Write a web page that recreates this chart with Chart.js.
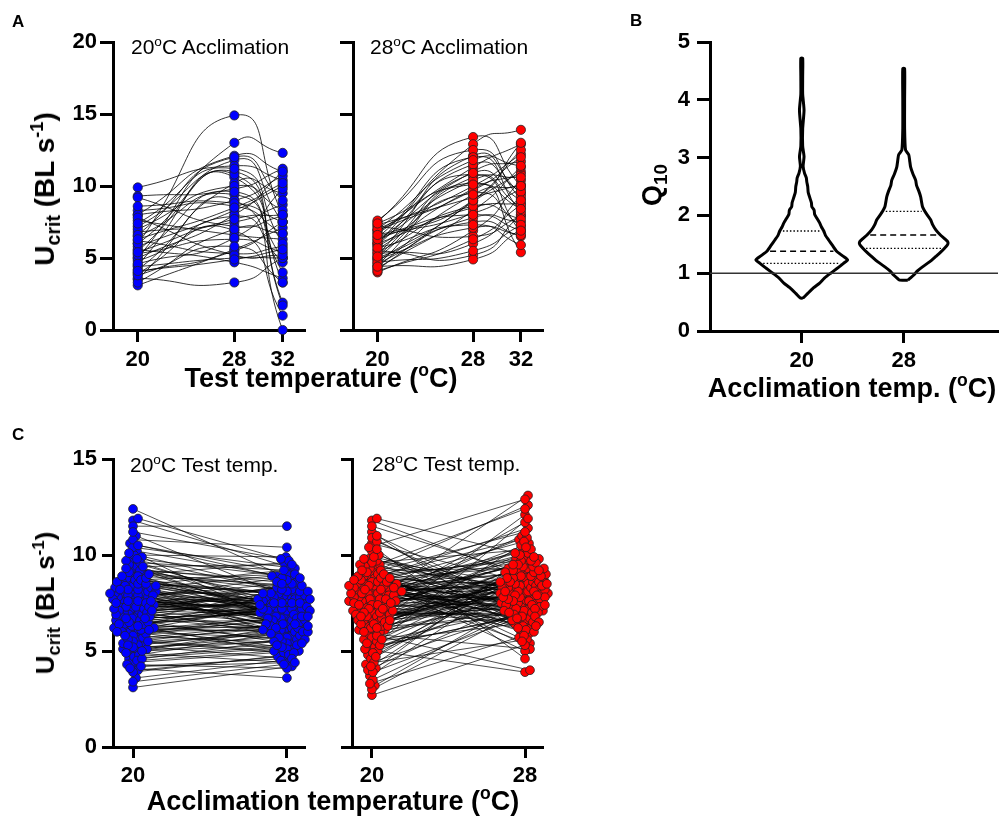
<!DOCTYPE html>
<html>
<head>
<meta charset="utf-8">
<script src="https://cdn.jsdelivr.net/npm/chart.js@4.4.0/dist/chart.umd.min.js"></script>
<style>
body { margin: 0; background: #fff; }
#fig { position: relative; width: 1000px; height: 824px; font-family: "Liberation Sans", Arial, Helvetica, sans-serif; color: #000; overflow: hidden; }
canvas { position: absolute; }
.lbl { position: absolute; white-space: nowrap; line-height: 1; }
.ly { transform: translateY(-50%); }
.c { transform: translate(-50%, -50%); }
.r { transform: translate(-50%, -50%) rotate(-90deg); }
.b { font-weight: bold; }
sup, sub { font-size: 0.65em; line-height: 0; position: relative; vertical-align: baseline; }
sup { top: -0.6em; }
sub { top: 0.32em; font-size: 0.7em; }
</style>
</head>
<body>
<div id="fig">
  <canvas id="a1" width="320" height="400" style="left:0;top:0"></canvas>
  <canvas id="a2" width="240" height="400" style="left:320px;top:0"></canvas>
  <canvas id="b1" width="400" height="400" style="left:600px;top:0"></canvas>
  <canvas id="c1" width="320" height="404" style="left:0;top:420px"></canvas>
  <canvas id="c2" width="240" height="404" style="left:320px;top:420px"></canvas>

  <div class="lbl ly b" style="left:12px;top:21px;font-size:17px">A</div>
  <div class="lbl ly b" style="left:630px;top:20px;font-size:17px">B</div>
  <div class="lbl ly b" style="left:12px;top:434px;font-size:17px">C</div>

  <div class="lbl ly" style="left:131px;top:46px;font-size:21px">20<sup>o</sup>C Acclimation</div>
  <div class="lbl ly" style="left:370px;top:46px;font-size:21px">28<sup>o</sup>C Acclimation</div>
  <div class="lbl c b" style="left:321px;top:378px;font-size:27px">Test temperature (<sup>o</sup>C)</div>
  <div class="lbl r b" style="left:45px;top:189px;font-size:28px">U<sub>crit</sub> (BL s<sup>-1</sup>)</div>

  <div class="lbl r b" style="left:652px;top:185px;font-size:27px">Q<sub>10</sub></div>
  <div class="lbl c b" style="left:852px;top:388px;font-size:27px">Acclimation temp. (<sup>o</sup>C)</div>

  <div class="lbl ly" style="left:130px;top:464px;font-size:21px">20<sup>o</sup>C Test temp.</div>
  <div class="lbl ly" style="left:372px;top:463px;font-size:21px">28<sup>o</sup>C Test temp.</div>
  <div class="lbl c b" style="left:333px;top:801px;font-size:27px">Acclimation temperature (<sup>o</sup>C)</div>
  <div class="lbl r b" style="left:45px;top:603px;font-size:26px">U<sub>crit</sub> (BL s<sup>-1</sup>)</div>
</div>

<script>
// ---- panel A: Ucrit of each fish at the three test temperatures ----
const testTemps = [20, 28, 32];
const acc20At20 = [6.0, 5.0, 8.0, 4.5, 9.9, 5.5, 7.2, 3.5, 9.3, 6.5, 4.2, 8.3, 5.8, 3.9, 6.8, 9.2, 4.8, 7.6, 5.3, 3.1,
                   6.2, 4.4, 5.6, 3.6, 8.0, 7.0, 5.0, 4.0, 6.6, 3.3, 5.2, 7.8, 4.6, 6.0, 8.6, 3.8, 5.4, 7.4, 4.1, 6.3];
const acc20At28 = [14.9, 13.0, 12.1, 11.8, 11.4, 11.0, 10.6, 10.2, 9.8, 9.4, 9.0, 8.6, 8.3, 7.9, 7.5, 7.2, 6.9, 6.6, 6.3, 5.6,
                   5.3, 5.0, 4.7, 3.3, 9.0, 10.0, 8.0, 5.5, 12.0, 7.0, 9.6, 5.2, 6.4, 10.8, 8.8, 5.8, 7.7, 11.2, 4.9, 8.5];
const acc20At32 = [8.0, 12.3, 11.0, 7.5, 10.4, 3.3, 1.9, 9.5, 11.2, 5.0, 0.0, 6.7, 10.0, 4.7, 8.7, 7.9, 1.0, 6.3, 5.4, 7.1,
                   5.8, 5.0, 3.6, 5.0, 10.7, 8.3, 11.0, 7.5, 9.0, 6.7, 4.0, 5.2, 9.8, 1.7, 7.5, 3.3, 8.0, 6.0, 5.6, 10.2];
const acc28At20 = [7.5, 6.0, 5.2, 6.8, 4.5, 7.0, 5.8, 4.2, 6.5, 5.0, 4.0, 7.2, 5.5, 4.4, 6.2, 5.0, 7.6, 4.8, 6.0, 5.6,
                   4.6, 6.7, 5.3, 6.4, 4.3, 7.3, 5.9, 4.9, 6.9, 5.4, 6.1, 4.1, 7.0, 5.7, 6.3, 4.7, 5.1, 6.6, 4.4, 7.4];
const acc28At28 = [13.4, 12.9, 12.1, 11.3, 10.6, 10.0, 9.5, 8.9, 8.1, 7.5, 6.9, 6.5, 5.2, 4.9, 11.0, 10.2, 12.5, 9.0, 8.5, 9.8,
                   7.8, 10.8, 6.0, 12.0, 8.3, 9.2, 11.5, 7.1, 9.7, 8.6, 10.4, 6.3, 11.8, 7.3, 9.0, 5.5, 10.9, 8.0, 9.4, 10.1];
const acc28At32 = [10.0, 13.9, 9.5, 12.9, 8.5, 12.2, 7.2, 11.0, 9.8, 6.5, 10.4, 7.9, 8.0, 7.0, 11.7, 5.4, 9.1, 12.5, 8.8, 10.8,
                   7.5, 6.8, 9.3, 8.2, 11.3, 10.1, 9.6, 6.6, 12.0, 7.7, 10.6, 8.7, 11.4, 5.9, 13.0, 7.3, 9.0, 6.9, 10.0, 8.4];

// ---- panel B: Q10 violin, relative density at each Q10 level ----
const acclimTemps = [20, 28];
const q10Levels20 = [0.57, 0.65, 0.75, 0.83, 0.92, 1.0, 1.1, 1.17, 1.23, 1.3, 1.38, 1.48, 1.57, 1.65, 1.73, 1.8, 1.87, 1.95,
                     2.02, 2.09, 2.15, 2.22, 2.32, 2.4, 2.5, 2.58, 2.65, 2.73, 2.85, 3.02, 3.2, 3.5, 3.82, 4.1, 4.4, 4.72];
const q10Density20 = [0.03, 0.13, 0.26, 0.39, 0.50, 0.63, 0.80, 0.91, 1.0, 0.89, 0.76, 0.67, 0.59, 0.52, 0.48, 0.43, 0.39, 0.33,
                      0.28, 0.27, 0.22, 0.21, 0.17, 0.14, 0.13, 0.11, 0.10, 0.06, 0.03, 0.05, 0.02, 0.02, 0.05, 0.02, 0.02, 0.02];
const q10Levels28 = [0.88, 0.92, 0.97, 1.04, 1.11, 1.2, 1.29, 1.36, 1.43, 1.5, 1.545, 1.6, 1.66, 1.75, 1.84, 1.92, 2.0, 2.07,
                     2.15, 2.23, 2.32, 2.42, 2.52, 2.61, 2.72, 2.84, 2.95, 3.05, 3.13, 3.5, 4.0, 4.54];
const q10Density28 = [0.09, 0.15, 0.22, 0.30, 0.41, 0.57, 0.70, 0.80, 0.89, 0.96, 0.96, 0.89, 0.80, 0.70, 0.63, 0.59, 0.52, 0.46,
                      0.41, 0.39, 0.37, 0.33, 0.28, 0.26, 0.20, 0.15, 0.13, 0.11, 0.04, 0.02, 0.02, 0.02];
const q10Quartiles20 = [1.17, 1.38, 1.73];
const q10Quartiles28 = [1.43, 1.66, 2.07];

// ---- panel C: paired Ucrit, acclimated at 20 vs 28 ----
const test20Acc20 = [7.8, 6.2, 9.1, 5.4, 8.3, 7.0, 10.2, 4.6, 6.8, 8.9, 7.4, 5.9, 9.6, 6.5, 8.1, 4.2, 7.7, 11.8, 6.1, 8.6,
  5.1, 7.2, 9.3, 6.9, 4.9, 8.0, 7.5, 10.6, 5.6, 6.4, 8.8, 7.1, 3.1, 9.0, 6.7, 7.9, 5.3, 8.4, 12.4, 6.0,
  7.3, 9.8, 4.4, 8.2, 6.6, 7.6, 5.8, 9.4, 4.0, 8.7, 6.3, 7.0, 10.0, 5.5, 8.5, 7.8, 3.6, 9.2, 6.9, 7.4,
  5.0, 8.1, 11.0, 6.2, 7.7, 4.7, 9.5, 6.8, 8.3, 5.7, 7.2, 10.4, 6.5, 8.0, 4.3, 7.5, 9.7, 5.9, 8.6, 6.1,
  7.9, 3.9, 9.1, 6.4, 8.4, 5.2, 7.3, 11.5, 6.7, 8.9, 4.8, 7.6, 9.9, 5.4, 8.2, 6.0, 7.1, 10.8, 4.5, 8.7,
  6.6, 7.8, 5.6, 9.3, 6.3, 8.0, 4.1, 7.4, 11.9, 6.9, 8.5, 5.1, 7.0, 9.6, 6.2, 8.3, 3.4, 7.7, 10.1, 5.8,
  8.8, 6.5, 7.2, 9.0, 4.6, 8.1, 6.8, 7.5, 5.3, 9.4, 6.1, 8.6, 4.9, 7.9, 10.5, 6.4, 8.2, 5.5, 7.3, 9.8,
  4.2, 7.6, 8.9, 6.7, 5.0, 8.4, 7.1, 11.2, 6.0, 8.0];
const test20Acc28 = [7.4, 6.0, 8.3, 5.9, 7.0, 7.7, 8.8, 5.2, 7.3, 6.6, 6.8, 6.9, 9.2, 5.5, 7.9, 4.6, 6.2, 9.4, 7.6, 8.0,
  5.8, 7.1, 7.7, 8.4, 4.4, 6.5, 7.2, 8.9, 6.3, 5.0, 7.9, 6.4, 4.2, 9.6, 7.0, 8.2, 6.1, 5.7, 8.6, 6.6,
  7.5, 8.1, 5.0, 6.9, 5.4, 7.8, 6.7, 7.3, 4.7, 9.0, 6.2, 8.5, 9.9, 4.9, 7.1, 6.0, 4.5, 8.7, 7.7, 6.9,
  5.6, 7.4, 8.0, 7.2, 8.8, 5.3, 6.8, 6.1, 7.6, 6.4, 7.0, 9.3, 6.6, 5.8, 4.1, 8.3, 7.5, 5.1, 7.9, 6.3,
  6.7, 4.8, 8.1, 7.4, 6.2, 5.5, 7.8, 11.5, 6.9, 8.4, 5.9, 7.2, 7.0, 6.5, 8.9, 5.7, 6.0, 10.4, 5.0, 7.3,
  7.1, 6.4, 4.9, 8.6, 7.8, 7.5, 3.6, 6.6, 9.7, 7.9, 8.0, 6.2, 5.6, 7.6, 6.8, 9.2, 4.3, 7.0, 8.2, 5.4,
  6.5, 7.3, 8.1, 7.2, 5.5, 6.7, 6.0, 7.7, 4.6, 9.5, 5.2, 7.7, 6.3, 8.5, 9.0, 7.6, 6.4, 5.9, 7.4, 8.8,
  4.4, 6.9, 7.5, 8.0, 5.3, 7.1, 6.8, 9.8, 6.1, 7.2];
const test28Acc20 = [8.2, 6.5, 9.4, 5.1, 7.8, 10.6, 7.1, 4.3, 8.7, 6.9, 7.5, 11.8, 6.0, 8.9, 3.2, 7.9, 9.8, 5.6, 8.4, 7.2,
  6.7, 8.0, 4.8, 9.1, 7.6, 2.7, 8.5, 6.3, 10.2, 7.0, 8.8, 5.4, 7.7, 9.5, 6.1, 8.1, 3.7, 7.4, 11.2, 8.6,
  6.8, 7.9, 5.9, 9.0, 4.1, 8.3, 7.3, 10.9, 6.5, 8.0, 7.6, 5.2, 8.9, 6.6, 9.3, 3.0, 7.8, 8.4, 6.2, 11.5,
  8.1, 4.6, 7.1, 9.7, 6.9, 8.6, 5.7, 7.5, 10.0, 8.3, 6.4, 7.7, 3.5, 8.8, 6.0, 9.2, 7.2, 5.0, 8.0, 11.9,
  7.4, 8.5, 6.7, 4.4, 9.0, 7.9, 5.5, 8.2, 10.4, 6.3, 8.7, 7.0, 4.0, 9.6, 6.8, 8.1, 5.8, 7.6, 9.9, 8.4,
  6.1, 7.3, 8.9, 3.9, 7.8, 6.6, 9.4, 5.3, 8.3, 7.5, 10.7, 6.9, 8.0, 4.9, 7.2, 8.6, 6.4, 9.1, 5.6, 7.7,
  8.4, 3.3, 7.0, 9.5, 6.2, 8.8, 7.4, 4.7, 8.1, 6.5, 7.9, 11.0, 6.0, 8.5, 5.1, 7.6, 9.2, 6.8, 8.2, 4.2,
  7.1, 8.7, 6.3, 9.8, 5.4, 8.0, 7.5, 10.3, 6.6, 8.3];
const test28Acc28 = [9.1, 7.4, 8.3, 7.8, 10.2, 8.6, 6.5, 7.0, 11.4, 8.0, 9.6, 8.8, 7.2, 6.4, 7.6, 10.8, 8.2, 9.3, 5.9, 8.5,
  7.9, 6.9, 8.7, 12.6, 7.3, 5.4, 9.0, 8.1, 6.2, 9.8, 8.4, 9.2, 7.7, 6.6, 10.5, 7.1, 8.9, 11.0, 6.0, 7.5,
  9.4, 8.3, 5.1, 7.8, 9.9, 8.0, 13.1, 6.7, 8.6, 7.3, 8.1, 7.0, 9.7, 8.8, 5.7, 7.5, 10.1, 6.3, 12.1, 8.7,
  7.6, 9.0, 6.8, 8.4, 11.7, 5.0, 8.2, 9.5, 7.2, 6.5, 8.9, 10.6, 7.4, 6.1, 8.0, 9.3, 7.9, 3.9, 8.5, 9.8,
  7.1, 8.6, 9.1, 5.6, 10.9, 7.7, 6.4, 8.3, 12.9, 8.0, 9.4, 6.9, 8.2, 10.3, 7.3, 8.7, 4.0, 9.6, 7.8, 6.2,
  8.5, 7.5, 11.2, 6.6, 9.0, 8.1, 5.3, 7.0, 9.7, 8.8, 7.6, 9.2, 6.0, 8.4, 10.0, 7.2, 8.9, 6.8, 11.9, 7.9,
  8.3, 5.8, 9.5, 7.4, 8.0, 10.7, 6.5, 8.6, 7.1, 9.1, 10.4, 7.7, 8.5, 6.3, 9.3, 8.2, 12.4, 7.0, 5.5, 8.8,
  7.8, 9.9, 6.7, 8.1, 7.4, 10.1, 8.6, 4.6, 9.2, 7.5];

const yTicksA = [0, 20, 5];
const yTicksB = [0, 5, 1];
const yTicksC = [0, 15, 5];

const BLUE = '#0000ff';
const RED = '#ff0000';
const EDGE = '#222222';

Chart.defaults.font.family = '"Liberation Sans", Arial, Helvetica, sans-serif';
Chart.defaults.color = '#000';
Chart.defaults.animation = false;
Chart.defaults.plugins.legend.display = false;
Chart.defaults.plugins.tooltip.enabled = false;

function yAxis(range, showLabels, width, tick, pad) {
  return {
    type: 'linear', min: range[0], max: range[1],
    ticks: {
      stepSize: range[2], padding: pad, color: '#000',
      font: { size: 22, weight: 'bold' },
      callback: showLabels ? (v => v) : (() => '')
    },
    grid: { drawOnChartArea: false, drawTicks: true, tickLength: tick, tickWidth: 3, tickColor: '#000' },
    border: { color: '#000', width: 3 },
    afterFit: s => { s.width = width; }
  };
}

function xAxis(min, max, ticks, height, tick, pad) {
  return {
    type: 'linear', min: min, max: max,
    afterBuildTicks: s => { s.ticks = ticks.map(v => ({ value: v })); },
    ticks: { padding: pad, color: '#000', autoSkip: false, maxRotation: 0, font: { size: 22, weight: 'bold' } },
    grid: { drawOnChartArea: false, drawTicks: true, tickLength: tick, tickWidth: 3, tickColor: '#000' },
    border: { color: '#000', width: 3 },
    afterFit: s => { s.height = height; }
  };
}

function panelA(id, at20, at28, at32, fill, showLabels, yWidth, padRight) {
  const curves = at20.map((v, i) => ({
    data: [{ x: testTemps[0], y: v }, { x: testTemps[1], y: at28[i] }, { x: testTemps[2], y: at32[i] }],
    showLine: true, tension: 0.6, borderColor: '#000', borderWidth: 0.8,
    pointRadius: 0, order: 2, clip: false
  }));
  const points = {
    data: [].concat(
      at20.map(v => ({ x: testTemps[0], y: v })),
      at28.map(v => ({ x: testTemps[1], y: v })),
      at32.map(v => ({ x: testTemps[2], y: v }))),
    pointRadius: 4.6, backgroundColor: fill, borderColor: EDGE, borderWidth: 0.8, order: 1, clip: false
  };
  return new Chart(document.getElementById(id), {
    type: 'scatter',
    data: { datasets: curves.concat([points]) },
    options: {
      responsive: false,
      layout: { padding: { top: 42, right: padRight, left: 0, bottom: 0 } },
      scales: {
        x: xAxis(17.95, 33.85, testTemps, 70, 12, 5),
        y: yAxis(yTicksA, showLabels, yWidth, 13, 3)
      }
    }
  });
}

// beeswarm offsets so that the dots of one group do not pile up
const PX_X_C = 19.24, PX_Y_C = 19.2;
function swarm(values, center, minDist) {
  const order = values.map((v, i) => i).sort((a, b) => values[a] - values[b]);
  const placed = [];
  const xs = new Array(values.length);
  order.forEach(i => {
    const py = values[i] * PX_Y_C;
    let off = 0;
    for (let k = 0; k < 200; k++) {
      const cand = (k % 2 ? 1 : -1) * Math.ceil(k / 2) * 1.0;
      const hit = placed.some(p => (p.x - cand) ** 2 + (p.y - py) ** 2 < minDist * minDist);
      if (!hit) { off = cand; break; }
    }
    placed.push({ x: off, y: py });
    xs[i] = center + off / PX_X_C;
  });
  return xs;
}

function panelC(id, accA, accB, fill, showLabels, yWidth, padRight) {
  const xa = swarm(accA, acclimTemps[0], 4.6);
  const xb = swarm(accB, acclimTemps[1], 4.6);
  const lines = accA.map((v, i) => ({
    data: [{ x: xa[i], y: v }, { x: xb[i], y: accB[i] }],
    showLine: true, borderColor: '#000', borderWidth: 0.7, pointRadius: 0, order: 2
  }));
  const points = {
    data: accA.map((v, i) => ({ x: xa[i], y: v })).concat(accB.map((v, i) => ({ x: xb[i], y: v }))),
    pointRadius: 4.4, backgroundColor: fill, borderColor: EDGE, borderWidth: 0.8, order: 1, clip: false
  };
  return new Chart(document.getElementById(id), {
    type: 'scatter',
    data: { datasets: lines.concat([points]) },
    options: {
      responsive: false,
      layout: { padding: { top: 39, right: padRight, left: 0, bottom: 0 } },
      scales: {
        x: xAxis(18.96, 28.94, acclimTemps, 77, 11, 5),
        y: yAxis(yTicksC, showLabels, yWidth, 11, 5)
      }
    }
  });
}

// violin helpers
const VIOLIN_HALF = 3.6;
function violinOutline(center, levels, dens) {
  const right = levels.map((q, i) => ({ x: center + dens[i] * VIOLIN_HALF, y: q }));
  const left = levels.map((q, i) => ({ x: center - dens[i] * VIOLIN_HALF, y: q })).reverse();
  return right.concat(left, [right[0]]);
}
function densityAt(levels, dens, q) {
  for (let i = 1; i < levels.length; i++) {
    if (q <= levels[i]) {
      const t = (q - levels[i - 1]) / (levels[i] - levels[i - 1]);
      return dens[i - 1] + t * (dens[i] - dens[i - 1]);
    }
  }
  return dens[dens.length - 1];
}
function quartileLines(center, levels, dens, quart) {
  return quart.map((q, i) => {
    const w = densityAt(levels, dens, q) * VIOLIN_HALF - 0.25;
    return {
      data: [{ x: center - w, y: q }, { x: center + w, y: q }],
      showLine: true, pointRadius: 0, borderColor: '#000',
      borderWidth: i === 1 ? 1.6 : 1.3,
      borderDash: i === 1 ? [6, 4] : [1.5, 2]
    };
  });
}

panelA('a1', acc20At20, acc20At28, acc20At32, BLUE, true, 113, 15);
panelA('a2', acc28At20, acc28At28, acc28At32, RED, false, 33, 17);

new Chart(document.getElementById('b1'), {
  type: 'scatter',
  data: {
    datasets: [
      { data: [{ x: 12.8, y: 1 }, { x: 35.4, y: 1 }], showLine: true, pointRadius: 0, borderColor: '#333', borderWidth: 1.4 },
      { data: violinOutline(acclimTemps[0], q10Levels20, q10Density20), showLine: true, pointRadius: 0,
        borderColor: '#000', borderWidth: 3, tension: 0.2, clip: false },
      { data: violinOutline(acclimTemps[1], q10Levels28, q10Density28), showLine: true, pointRadius: 0,
        borderColor: '#000', borderWidth: 3, tension: 0.2, clip: false }
    ].concat(
      quartileLines(acclimTemps[0], q10Levels20, q10Density20, q10Quartiles20),
      quartileLines(acclimTemps[1], q10Levels28, q10Density28, q10Quartiles28))
  },
  options: {
    responsive: false,
    layout: { padding: { top: 42, right: 2, left: 0, bottom: 0 } },
    scales: {
      x: xAxis(12.8, 35.4, acclimTemps, 69, 12, 5),
      y: yAxis(yTicksB, true, 110, 13, 7)
    }
  }
});

panelC('c1', test20Acc20, test20Acc28, BLUE, true, 113, 15);
panelC('c2', test28Acc20, test28Acc28, RED, false, 32, 17);
</script>
</body>
</html>
